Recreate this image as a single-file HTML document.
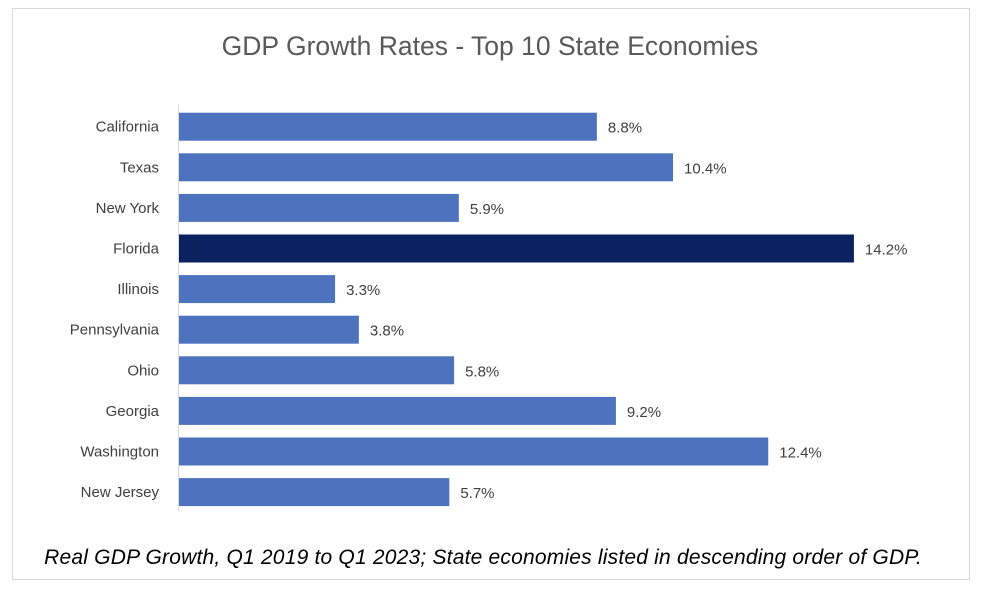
<!DOCTYPE html>
<html><head><meta charset="utf-8"><style>
body{margin:0;background:#fff;width:1000px;height:609px;overflow:hidden;font-family:"Liberation Sans",sans-serif}
</style></head><body>
<svg width="1000" height="609">
<rect x="12.5" y="8.5" width="957" height="571" fill="#fff" stroke="#d9d9d9"/>
<text x="490" y="55" text-anchor="middle" font-size="26.5" fill="#595959">GDP Growth Rates - Top 10 State Economies</text>
<g id="bars"></g>
<line x1="178.5" y1="105" x2="178.5" y2="511" stroke="#d9d9d9"/>
<text x="483" y="564" text-anchor="middle" font-size="21" font-style="italic" fill="#000" letter-spacing="0.2">Real GDP Growth, Q1 2019 to Q1 2023; State economies listed in descending order of GDP.</text>
</svg>
<script>
const states=["California","Texas","New York","Florida","Illinois","Pennsylvania","Ohio","Georgia","Washington","New Jersey"];
const growth=[8.8,10.4,5.9,14.2,3.3,3.8,5.8,9.2,12.4,5.7];
const highlight="Florida";
const x0=178,pxPer=47.6,y0=126.7,step=40.6,bh=28;
const xs=v=>x0+v*pxPer, ys=i=>y0+i*step;
const g=document.getElementById('bars'),NS="http://www.w3.org/2000/svg";
states.forEach((s,i)=>{
 const r=document.createElementNS(NS,'rect');
 r.setAttribute('x',x0);r.setAttribute('y',ys(i)-bh/2);
 r.setAttribute('width',xs(growth[i])-x0);r.setAttribute('height',bh);
 r.setAttribute('fill',s===highlight?'#0B2160':'#4E73BE');
 
 
 g.appendChild(r);
 const t=document.createElementNS(NS,'text');
 t.setAttribute('x',xs(growth[i])+11);t.setAttribute('y',ys(i)+6);
 t.setAttribute('font-size','15');t.setAttribute('fill','#404040');
 t.textContent=growth[i].toFixed(1)+'%';
 
 
 g.appendChild(t);
 const l=document.createElementNS(NS,'text');
 l.setAttribute('x',159);l.setAttribute('y',ys(i)+5);
 l.setAttribute('text-anchor','end');
 l.setAttribute('font-size','15');l.setAttribute('fill','#404040');
 l.textContent=s;
 
 
 g.appendChild(l);
});
</script>
</body></html>
